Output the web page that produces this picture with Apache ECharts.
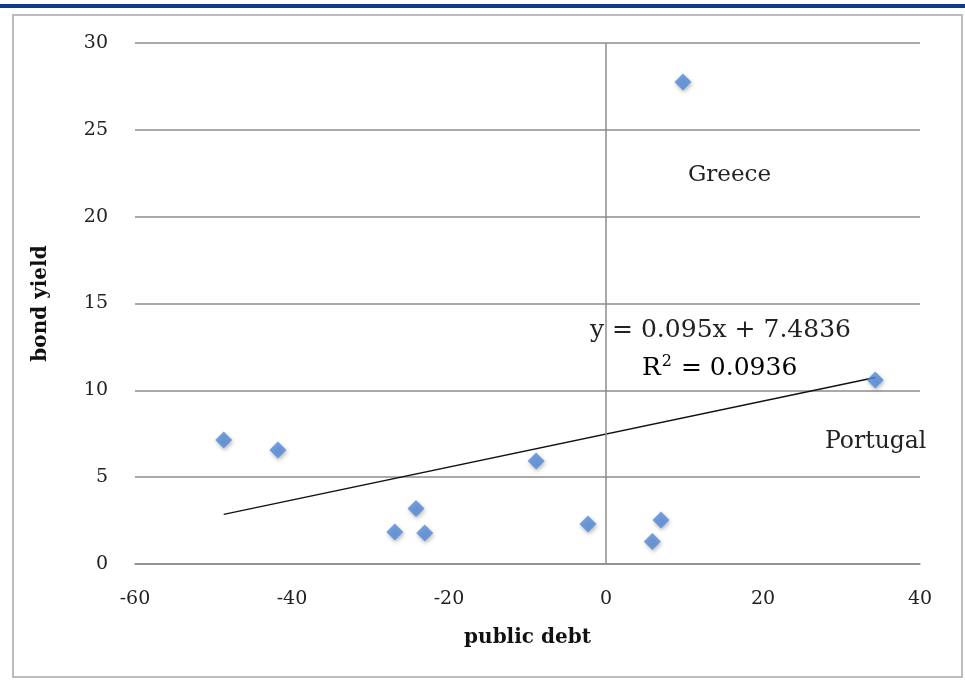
<!DOCTYPE html>
<html><head><meta charset="utf-8">
<script src="https://cdn.jsdelivr.net/npm/echarts@6/dist/echarts.min.js"></script>
<style>html,body{margin:0;padding:0;background:#fff}#c{width:965px;height:680px}</style>
</head><body><div id="c"></div>
<script>
// Data (public debt, bond yield)
var publicDebt = [-48.7, -41.8, -26.9, -24.2, -23.1, -8.9, -2.3, 5.9, 7.0, 9.8, 34.3];
var bondYield  = [7.14, 6.56, 1.84, 3.20, 1.78, 5.93, 2.30, 1.30, 2.53, 27.75, 10.59];
var xTicks = [-60, -40, -20, 0, 20, 40];
var yTicks = [0, 5, 10, 15, 20, 25, 30];
var trend = {slope: 0.095, intercept: 7.4836, r2: 0.0936};
var labels = ["Greece", "Portugal"];

var pts = publicDebt.map(function(x, i){ return [x, bondYield[i]]; });
var xmin = Math.min.apply(null, publicDebt), xmax = Math.max.apply(null, publicDebt);
var trendLine = [[xmin, trend.slope*xmin + trend.intercept], [xmax, trend.slope*xmax + trend.intercept]];

var serif = "'DejaVu Serif', 'Liberation Serif', serif";
var chart = echarts.init(document.getElementById('c'));
chart.setOption({
  animation: false,
  backgroundColor: '#fff',
  grid: {left: 135, right: 45, top: 43, bottom: 116},
  xAxis: {
    type: 'value', min: xTicks[0], max: xTicks[xTicks.length-1], interval: 20,
    axisLine: {show: true, onZero: true, lineStyle: {color: '#8c8c8c', width: 1.5}},
    axisTick: {show: false},
    splitLine: {show: false},
    axisLabel: {color: '#222', fontFamily: serif, fontSize: 19, margin: 26},
    name: 'public debt', nameLocation: 'middle', nameGap: 64,
    nameTextStyle: {color: '#111', fontFamily: serif, fontWeight: 'bold', fontSize: 20}
  },
  yAxis: {
    type: 'value', min: yTicks[0], max: yTicks[yTicks.length-1], interval: 5,
    axisLine: {show: false},
    axisTick: {show: false},
    splitLine: {show: true, lineStyle: {color: '#8c8c8c', width: 1.5}},
    axisLabel: {color: '#222', fontFamily: serif, fontSize: 19, margin: 27},
    name: 'bond yield', nameLocation: 'middle', nameGap: 84, nameRotate: 90,
    nameTextStyle: {color: '#111', fontFamily: serif, fontWeight: 'bold', fontSize: 20}
  },
  series: [
    {
      type: 'line', data: trendLine, symbol: 'none', silent: true,
      lineStyle: {color: '#111', width: 1.5}, z: 3,
      markLine: {
        silent: true, symbol: 'none', label: {show: false},
        lineStyle: {color: '#8c8c8c', width: 1.5, type: 'solid'},
        data: [{xAxis: 0}]
      }
    },
    {
      type: 'scatter', data: pts, symbol: 'diamond', symbolSize: 17, z: 4,
      itemStyle: {color: '#5289da', shadowColor: 'rgba(0,0,0,0.35)', shadowBlur: 4, shadowOffsetX: 1, shadowOffsetY: 2}
    }
  ],
  graphic: [
    {type: 'rect', x: 13, y: 15, shape: {x: 0, y: 0, width: 949, height: 662}, style: {fill: 'none', stroke: '#a6a6a6', lineWidth: 1.5}, silent: true},
    {type: 'rect', x: 0, y: 4, shape: {x: 0, y: 0, width: 965, height: 4}, style: {fill: '#0d3a8e'}, silent: true},
    {type: 'text', x: 688, y: 175, style: {text: labels[0], font: "23px " + serif, fill: '#222', textVerticalAlign: 'middle'}},
    {type: 'text', x: 825, y: 442, style: {text: labels[1], font: "23.5px " + serif, fill: '#222', textVerticalAlign: 'middle'}},
    {type: 'text', x: 590, y: 330, style: {text: 'y = ' + trend.slope + 'x + ' + trend.intercept, font: "25px " + serif, fill: '#222', textVerticalAlign: 'middle'}},
    {type: 'text', x: 642, y: 354, style: {text: '{a|R}{s|2}{a| = ' + trend.r2 + '}', rich: {a: {fontFamily: serif, fontSize: 25, color: '#222'}, s: {fontFamily: serif, fontSize: 16, color: '#222', verticalAlign: 'top', padding: [0, 1, 12, 1]}}}}
  ]
});
</script></body></html>
